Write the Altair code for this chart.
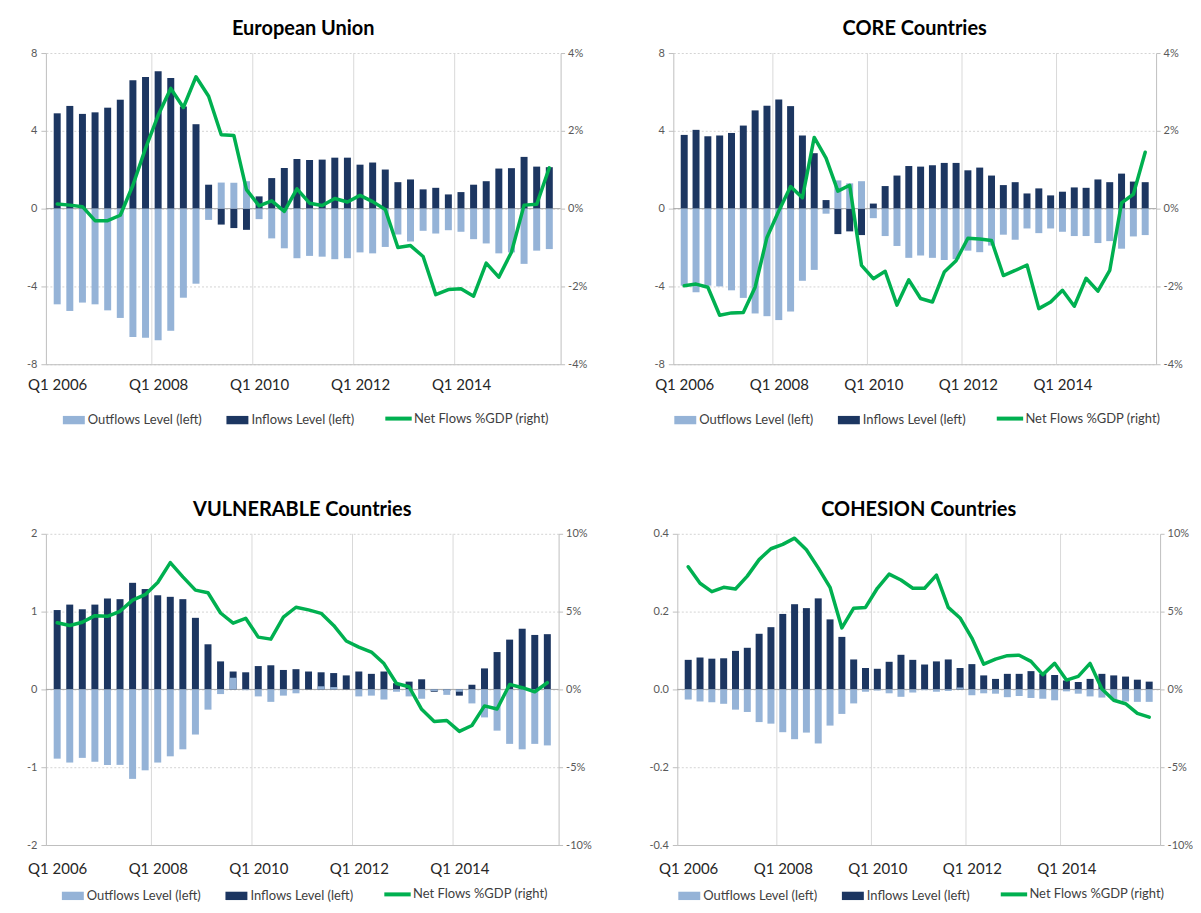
import altair as alt
import pandas as pd

# ---------------- categories ----------------
QUARTERS = [f"Q{q} {y}" for y in range(2006, 2016) for q in range(1, 5)]
LABEL_QUARTERS = ["Q1 2006", "Q1 2008", "Q1 2010", "Q1 2012", "Q1 2014"]
GRID_QUARTERS = ["Q1 2008", "Q1 2010", "Q1 2012", "Q1 2014"]
SERIES = ["Outflows Level (left)", "Inflows Level (left)", "Net Flows %GDP (right)"]

# ---------------- European Union ----------------
EU_IN = [4.90, 5.28, 4.87, 4.95, 5.19, 5.60, 6.60, 6.77, 7.06, 6.72, 5.25, 4.34, 1.23, -0.82, -1.00, -1.09,
         0.63, 1.57, 2.09, 2.55, 2.50, 2.52, 2.62, 2.62, 2.26, 2.37, 2.01, 1.36, 1.50, 0.99, 1.07, 0.73,
         0.85, 1.23, 1.41, 2.06, 2.08, 2.66, 2.16, 2.13]
EU_OUT = [-4.92, -5.26, -4.83, -4.92, -5.23, -5.62, -6.60, -6.64, -6.77, -6.28, -4.58, -3.86, -0.58, 1.34, 1.33, 1.41,
          -0.54, -1.53, -2.04, -2.55, -2.43, -2.47, -2.60, -2.55, -2.25, -2.30, -1.97, -1.33, -1.69, -1.14, -1.28, -1.11,
          -1.19, -1.57, -1.79, -2.30, -2.25, -2.84, -2.16, -2.08]
EU_NET = [0.12, 0.09, 0.05, -0.31, -0.31, -0.17, 0.60, 1.55, 2.40, 3.09, 2.60, 3.39, 2.89, 1.90, 1.88, 0.49,
          0.07, 0.20, -0.07, 0.51, 0.14, 0.08, 0.26, 0.17, 0.34, 0.18, -0.02, -1.00, -0.95, -1.23, -2.21, -2.08,
          -2.06, -2.25, -1.40, -1.76, -1.12, 0.09, 0.11, 1.05]

# ---------------- CORE ----------------
CORE_IN = [3.79, 4.05, 3.72, 3.76, 3.89, 4.27, 5.05, 5.29, 5.61, 5.27, 3.76, 2.85, 0.44, -1.31, -1.17, -1.36,
           0.26, 1.16, 1.70, 2.19, 2.16, 2.23, 2.35, 2.35, 1.97, 2.11, 1.70, 1.21, 1.36, 0.78, 1.04, 0.68,
           0.87, 1.09, 1.07, 1.50, 1.36, 1.80, 1.39, 1.36]
CORE_OUT = [-3.96, -4.30, -3.96, -4.00, -4.20, -4.59, -5.39, -5.53, -5.73, -5.29, -3.71, -3.15, -0.26, 1.45, 1.30, 1.41,
            -0.49, -1.41, -1.92, -2.53, -2.41, -2.53, -2.64, -2.60, -2.16, -2.24, -1.90, -1.34, -1.60, -1.02, -1.26, -1.02,
            -1.19, -1.41, -1.41, -1.77, -1.67, -2.06, -1.43, -1.36]
CORE_NET = [-1.98, -1.94, -2.02, -2.74, -2.68, -2.67, -2.02, -0.74, -0.06, 0.57, 0.28, 1.83, 1.30, 0.45, 0.60, -1.46,
            -1.80, -1.61, -2.48, -1.83, -2.31, -2.40, -1.63, -1.34, -0.76, -0.78, -0.82, -1.72, -1.59, -1.45, -2.57, -2.40,
            -2.10, -2.51, -1.79, -2.12, -1.59, 0.15, 0.37, 1.45]

# ---------------- VULNERABLE ----------------
VUL_IN = [1.02, 1.09, 1.03, 1.09, 1.17, 1.16, 1.37, 1.29, 1.21, 1.19, 1.16, 0.92, 0.58, 0.36, 0.23, 0.22,
          0.30, 0.31, 0.25, 0.26, 0.23, 0.22, 0.21, 0.18, 0.23, 0.20, 0.23, 0.08, 0.10, 0.13, -0.03, -0.02,
          -0.08, 0.06, 0.27, 0.48, 0.64, 0.78, 0.70, 0.71]
VUL_OUT = [-0.89, -0.94, -0.88, -0.93, -0.97, -0.97, -1.15, -1.04, -0.94, -0.86, -0.77, -0.58, -0.26, -0.06, 0.15, -0.01,
           -0.09, -0.16, -0.08, -0.05, 0.00, 0.04, 0.03, 0.00, -0.09, -0.08, -0.13, -0.03, -0.09, -0.12, -0.02, -0.07,
           -0.03, -0.18, -0.36, -0.53, -0.70, -0.77, -0.70, -0.72]
VUL_NET = [4.28, 4.11, 4.32, 4.74, 4.70, 5.02, 5.74, 6.09, 6.87, 8.15, 7.23, 6.38, 6.21, 4.91, 4.26, 4.57,
           3.36, 3.23, 4.64, 5.28, 5.11, 4.89, 4.11, 3.11, 2.72, 2.40, 1.66, 0.38, 0.17, -1.28, -2.06, -2.00,
           -2.70, -2.32, -1.06, -1.26, 0.32, 0.11, -0.15, 0.43]

# ---------------- COHESION ----------------
COH_IN = [0.076, 0.082, 0.079, 0.080, 0.099, 0.107, 0.143, 0.160, 0.194, 0.219, 0.209, 0.234, 0.180, 0.135, 0.077, 0.055,
          0.053, 0.071, 0.089, 0.076, 0.064, 0.072, 0.077, 0.055, 0.065, 0.036, 0.027, 0.040, 0.040, 0.047, 0.040, 0.037,
          0.023, 0.019, 0.027, 0.040, 0.036, 0.033, 0.025, 0.020]
COH_OUT = [-0.026, -0.031, -0.033, -0.037, -0.052, -0.058, -0.084, -0.088, -0.110, -0.128, -0.111, -0.139, -0.093, -0.063, -0.036, -0.006,
           -0.003, -0.010, -0.019, -0.008, -0.002, -0.006, -0.004, 0.005, -0.015, -0.010, -0.011, -0.020, -0.017, -0.022, -0.024, -0.028,
           -0.005, -0.011, -0.018, -0.021, -0.026, -0.031, -0.032, -0.032]
COH_NET = [7.88, 6.82, 6.28, 6.56, 6.45, 7.28, 8.34, 9.04, 9.32, 9.72, 8.98, 7.81, 6.56, 3.95, 5.22, 5.27,
           6.50, 7.41, 7.03, 6.50, 6.50, 7.35, 5.27, 4.59, 3.30, 1.62, 1.95, 2.17, 2.20, 1.80, 0.95, 1.68,
           0.60, 0.84, 1.67, 0.03, -0.70, -0.92, -1.54, -1.78]

LIGHT = "#95B3D7"
NAVY = "#1C3661"
GREEN = "#00B050"
FONT = "Lato"
AXIS_GRAY = "#BFBFBF"
MINUS_FIX = "replace(datum.label, '\u2212', '-')"


def panel(title, inflows, outflows, net, ldom, lvals, lfmt, rdom, rvals, w, h, lext, rext, legy, xpad):
    n = len(QUARTERS)
    pos = [i + 0.5 for i in range(n)]
    bar_df = pd.DataFrame({
        "pos": pos + pos,
        "value": list(inflows) + list(outflows),
        "series": [SERIES[1]] * n + [SERIES[0]] * n,
    })
    line_df = pd.DataFrame({"pos": pos, "net": list(net), "series": [SERIES[2]] * n})
    grid_df = pd.DataFrame({"pos": [QUARTERS.index(q) for q in GRID_QUARTERS]})
    zero_df = pd.DataFrame({"value": [0]})

    xscale = alt.Scale(domain=[0, n], nice=False, zero=False)
    label_pos = [QUARTERS.index(q) + 0.5 for q in LABEL_QUARTERS]
    label_expr = " : ".join(
        f"abs(datum.value - {p}) < 0.01 ? '{q}'" for p, q in zip(label_pos, LABEL_QUARTERS)
    ) + " : ''"
    xaxis = alt.Axis(values=label_pos, labelExpr=label_expr, ticks=False, grid=False,
                     domainColor=AXIS_GRAY, labelFontSize=15, labelColor="#262626",
                     labelPadding=xpad, title=None, labelFlush=False, labelOverlap=False,
                     labelBound=False)
    lscale = alt.Scale(domain=ldom, nice=False, zero=False)
    laxis = alt.Axis(values=lvals, format=lfmt, labelExpr=MINUS_FIX, grid=True,
                     gridDash=[2, 2], gridColor="#D4D4D4", domainColor=AXIS_GRAY,
                     tickColor=AXIS_GRAY, tickSize=5, labelColor="#595959", labelFontSize=11,
                     labelPadding=4, title=None, minExtent=lext, maxExtent=lext)
    rscale = alt.Scale(domain=rdom, nice=False, zero=False)
    raxis = alt.Axis(orient="right", values=rvals, format=".0f",
                     labelExpr=MINUS_FIX + " + '%'", grid=False, domainColor=AXIS_GRAY,
                     tickColor=AXIS_GRAY, tickSize=4, labelColor="#595959", labelFontSize=11,
                     labelPadding=3, title=None, minExtent=rext, maxExtent=rext)

    vgrid = alt.Chart(grid_df).mark_rule(color="#D9D9D9", strokeWidth=1).encode(
        x=alt.X("pos:Q", scale=xscale, axis=xaxis)
    )
    zero = alt.Chart(zero_df).mark_rule(color="#A6A6A6", strokeWidth=1).encode(
        y=alt.Y("value:Q", scale=lscale, axis=laxis)
    )
    bars = alt.Chart(bar_df).mark_bar(size=7).encode(
        x=alt.X("pos:Q", scale=xscale, axis=xaxis),
        y=alt.Y("value:Q", scale=lscale, axis=laxis, stack=None),
        fill=alt.Fill("series:N",
                      scale=alt.Scale(domain=SERIES[:2], range=[LIGHT, NAVY]),
                      legend=alt.Legend(orient="none", legendX=w / 2 - 241, legendY=h + legy,
                                        direction="horizontal", title=None,
                                        symbolType="M-1,-0.38H1V0.38H-1Z", symbolSize=484,
                                        symbolStrokeWidth=0, labelFontSize=13,
                                        labelColor="#404040", labelOffset=3, columnPadding=24,
                                        labelFont=FONT)),
    )
    line = alt.Chart(line_df).mark_line(strokeWidth=3.5, strokeJoin="round", strokeCap="round").encode(
        x=alt.X("pos:Q", scale=xscale, axis=xaxis),
        y=alt.Y("net:Q", scale=rscale, axis=raxis),
        stroke=alt.Stroke("series:N",
                          scale=alt.Scale(domain=[SERIES[2]], range=[GREEN]),
                          legend=alt.Legend(orient="none", legendX=w / 2 + 80, legendY=h + legy - 6,
                                            direction="horizontal", title=None,
                                            symbolType="stroke", symbolSize=700,
                                            symbolStrokeWidth=4, labelFontSize=13,
                                            labelColor="#404040", labelOffset=0,
                                            labelFont=FONT)),
    )
    left = alt.layer(vgrid, zero, bars)
    return alt.layer(left, line).resolve_scale(
        y="independent", fill="independent", stroke="independent"
    ).properties(
        width=w, height=h,
        title=alt.TitleParams(title, fontSize=20, fontWeight="bold", font=FONT, color="#000000",
                              anchor="middle", frame="group", offset=8),
    )


eu = panel("European Union", EU_IN, EU_OUT, EU_NET, [-8, 8], [-8, -4, 0, 4, 8], ".0f",
           [-4, 4], [-4, -2, 0, 2, 4], 516, 312, 33, 24, 45, 13)
core = panel("CORE Countries", CORE_IN, CORE_OUT, CORE_NET, [-8, 8], [-8, -4, 0, 4, 8], ".0f",
             [-4, 4], [-4, -2, 0, 2, 4], 484, 312, 33, 24, 45, 13)
vul = panel("VULNERABLE Countries", VUL_IN, VUL_OUT, VUL_NET, [-2, 2], [-2, -1, 0, 1, 2], ".0f",
            [-10, 10], [-10, -5, 0, 5, 10], 514, 312, 29, 28, 40, 17)
coh = panel("COHESION Countries", COH_IN, COH_OUT, COH_NET, [-0.4, 0.4], [-0.4, -0.2, 0, 0.2, 0.4], ".1f",
            [-10, 10], [-10, -5, 0, 5, 10], 484, 312, 33, 28, 40, 17)

res = dict(x="independent", y="independent", fill="independent", stroke="independent")
top = alt.hconcat(eu, core, spacing=53).resolve_scale(**res)
bottom = alt.hconcat(vul, coh, spacing=53).resolve_scale(**res)

chart = alt.vconcat(top, bottom, spacing=73).resolve_scale(**res).configure(
    font=FONT, padding={"left": 5, "top": 10, "right": 0, "bottom": 0}
).configure_view(stroke=None)

chart.save("out.html", embed_options={"renderer": "svg", "actions": False})
